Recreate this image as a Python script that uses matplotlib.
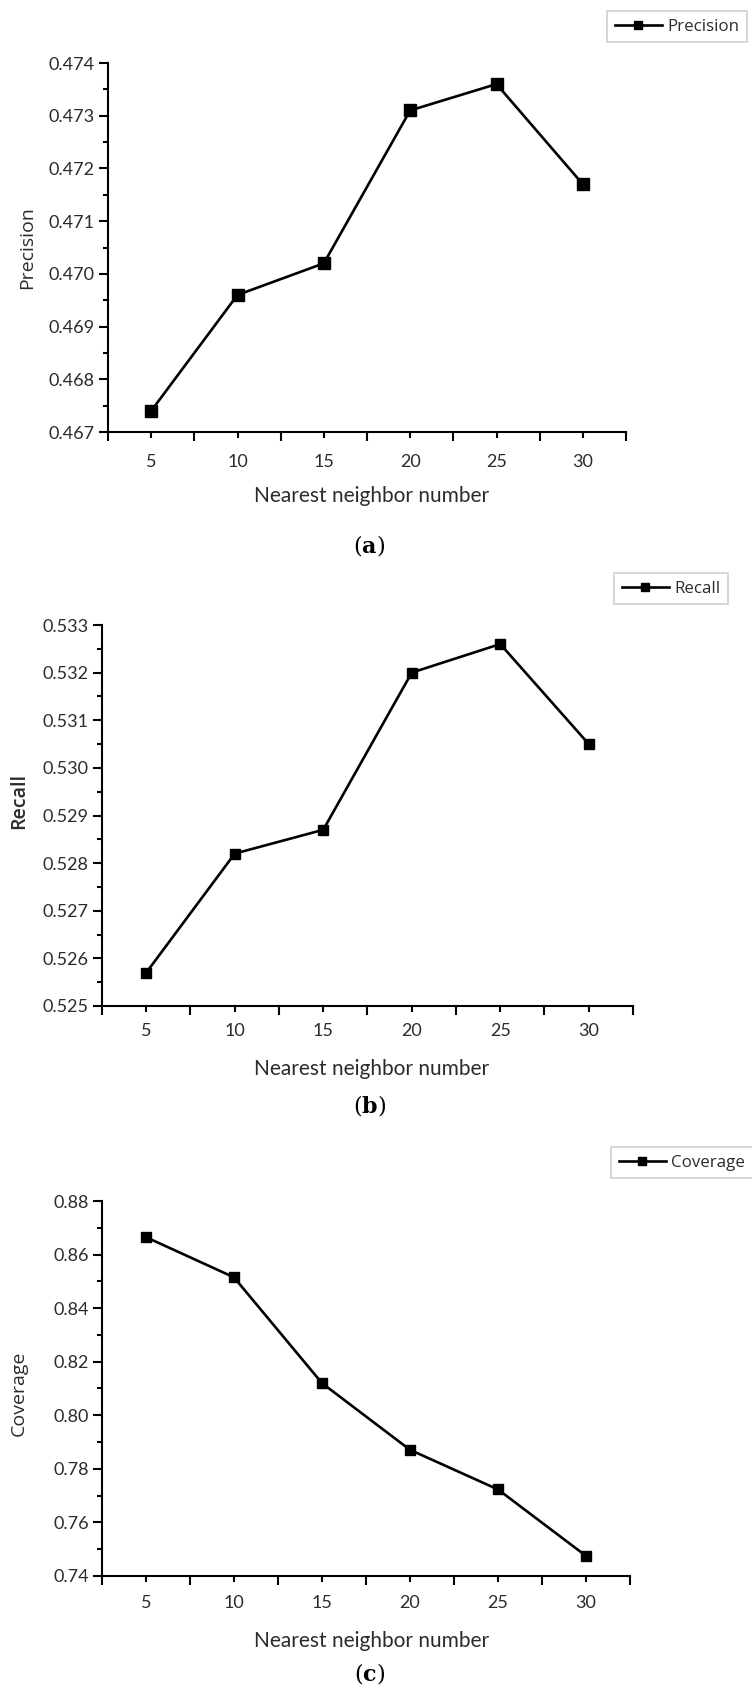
import matplotlib.pyplot as plt

neighbors = [5, 10, 15, 20, 25, 30]
precision = [0.4674, 0.4696, 0.4702, 0.4731, 0.4736, 0.4717]
recall = [0.5257, 0.5282, 0.5287, 0.5320, 0.5326, 0.5305]
coverage = [0.8665, 0.8515, 0.8120, 0.7871, 0.7723, 0.7475]

precision_ticks = [0.467, 0.468, 0.469, 0.470, 0.471, 0.472, 0.473, 0.474]
recall_ticks = [0.525, 0.526, 0.527, 0.528, 0.529, 0.530, 0.531, 0.532, 0.533]
coverage_ticks = [0.74, 0.76, 0.78, 0.80, 0.82, 0.84, 0.86, 0.88]

W, H = 752, 1689
TXT = '#2b2b2b'


def fx(px):
    return px / W


def fy(py):
    return 1 - py / H


def draw_panel(fig, box, y, yticks, fmt, name, ms, xpad, leg_xy, ylab_xy, xlab_y, cap_y, cap):
    left, top, right, bottom = box
    ax = fig.add_axes([fx(left), fy(bottom), (right - left) / W, (bottom - top) / H])
    ax.plot(neighbors, y, color='black', lw=1.9, marker='s', ms=ms, label=name)
    ax.set_xlim(2.5, 32.5)
    ax.set_ylim(yticks[0], yticks[-1])
    ax.set_xticks(neighbors)
    ax.set_xticks([2.5 + 5 * i for i in range(7)], minor=True)
    ax.set_yticks(yticks)
    ax.set_yticks([(a + b) / 2 for a, b in zip(yticks[:-1], yticks[1:])], minor=True)
    ax.set_yticklabels([fmt.format(v) for v in yticks])
    for s in ['top', 'right']:
        ax.spines[s].set_visible(False)
    for s in ['left', 'bottom']:
        ax.spines[s].set_linewidth(1.5)
    ax.tick_params(axis='x', which='major', length=4.5, width=1.5, pad=xpad,
                   labelsize=13, labelcolor=TXT)
    ax.tick_params(axis='x', which='minor', length=6.5, width=1.5)
    ax.tick_params(axis='y', which='major', length=6.5, width=1.5, pad=3,
                   labelsize=13, labelcolor=TXT)
    ax.tick_params(axis='y', which='minor', length=3.6, width=1.5)
    for lab in ax.get_xticklabels() + ax.get_yticklabels():
        lab.set_family('Lato')

    leg = ax.legend(loc='upper left', bbox_to_anchor=(fx(leg_xy[0]), fy(leg_xy[1])),
                    bbox_transform=fig.transFigure, borderaxespad=0, frameon=True,
                    fancybox=False, handlelength=2.8, handletextpad=0.3,
                    borderpad=0.45, markerscale=0.8,
                    prop={'family': 'Open Sans', 'size': 12.2})
    leg.get_frame().set_edgecolor('#c8c8c8')
    leg.get_frame().set_linewidth(1.3)
    for t in leg.get_texts():
        t.set_color(TXT)

    fig.text(fx(ylab_xy[0]), fy(ylab_xy[1]), name, rotation=90, ha='center', va='center',
             family='Open Sans', fontsize=14, color=TXT,
             fontweight='semibold' if name == 'Recall' else 'normal')
    fig.text(0.494, fy(xlab_y), 'Nearest neighbor number', ha='center', va='center',
             family='Lato', fontsize=15, color=TXT)
    fig.text(0.491, fy(cap_y), r'$\mathrm{(}\mathbf{' + cap + r'}\mathrm{)}$',
             ha='center', va='center', fontsize=16, color='black')
    return ax


plt.rcParams['mathtext.fontset'] = 'dejavuserif'
fig = plt.figure(figsize=(W / 100, H / 100), dpi=100)

draw_panel(fig, (108, 63, 626, 432), precision, precision_ticks, '{:.3f}', 'Precision',
           8, 11, (607, 11), (27, 248), 496, 546, 'a')
draw_panel(fig, (102, 625, 633, 1006), recall, recall_ticks, '{:.3f}', 'Recall',
           7, 8, (614, 573), (19, 801), 1069, 1105, 'b')
draw_panel(fig, (102, 1201, 630, 1576), coverage, coverage_ticks, '{:.2f}', 'Coverage',
           6.5, 9.5, (611, 1147), (19, 1393), 1641, 1673, 'c')

fig.savefig('out.png', dpi=100)
